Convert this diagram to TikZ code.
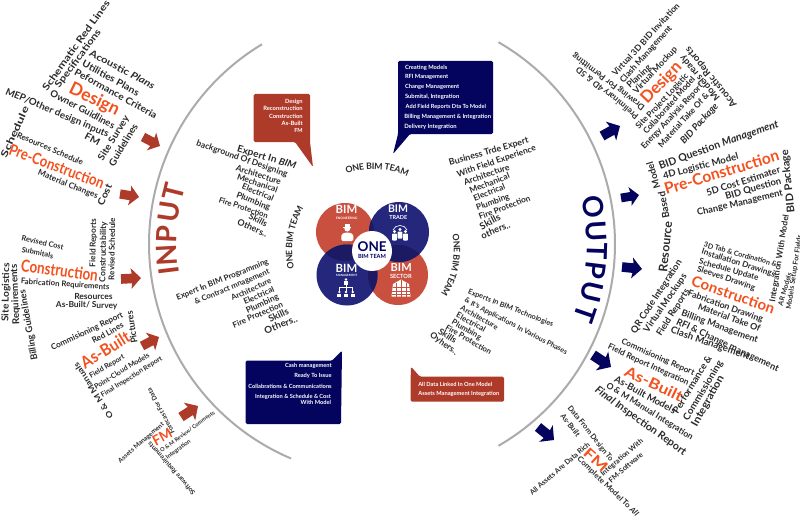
\documentclass[tikz,border=0pt]{standalone}
\usepackage{fontspec}
\usepackage{graphicx}
\setmainfont{Lato}
\definecolor{txtc}{HTML}{2A2A2A}
\definecolor{orangec}{HTML}{F4511E}
\definecolor{redc}{HTML}{AE3A2A}
\definecolor{navyc}{HTML}{04045F}
\definecolor{circred}{HTML}{C9503F}
\definecolor{circblue}{HTML}{24277C}
\definecolor{circdark}{HTML}{1B1A62}
\definecolor{arcgray}{HTML}{ABABAB}
\newcounter{lblcnt}
\newsavebox\tlbox
\def\tlcap{9.5}
\tikzset{
  linetxt/.style={inner sep=0pt,outer sep=0pt,text=txtc,font=\bfseries},
  bigword/.style={inner sep=0pt,outer sep=0pt,text=orangec,font=\bfseries},
  whitetxt/.style={inner sep=0pt,outer sep=0pt,text=white,font=\bfseries},
  navytxt/.style={inner sep=0pt,outer sep=0pt,text=navyc,font=\bfseries},
  bigarc/.style={draw=arcgray,line width=1.5pt},
  iconw/.style={fill=white,draw=none},
}
% text line from (x1,y1) to (x2,y2), stretched to that length; its size is held to \tlcap px
\newcommand\TL[6][linetxt]{%
  \pgfinterruptpicture
    \global\setbox\tlbox\hbox{\normalfont\fontsize{10}{12}\selectfont\bfseries #6}%
  \endpgfinterruptpicture
  \pgfmathsetmacro\tlang{atan2(#3-#5,#4-#2)}%
  \pgfmathsetmacro\tllen{0.75*veclen(#4-#2,#5-#3)}%
  \pgfmathsetmacro\tlnat{veclen(#4-#2,#5-#3)*10/\the\wd\tlbox}%
  \pgfmathsetmacro\tlv{min(1,\tlcap/\tlnat)}%
  \stepcounter{lblcnt}%
  \node[#1,rotate=\tlang,name=l\thelblcnt] at ({(#2+#4)/2},{(#3+#5)/2})
    {\scalebox{1}[\tlv]{\resizebox{\tllen pt}{!}{\vphantom{Ag}#6}}};%
}
% orange keyword: end points and font size in px
\newcommand\KW[6]{%
  \pgfmathsetmacro\tlang{atan2(#2-#4,#3-#1)}%
  \pgfmathsetmacro\tllen{0.75*veclen(#3-#1,#4-#2)}%
  \stepcounter{lblcnt}%
  \pgfmathsetmacro\tlh{0.75*0.73*#5}%
  \node[bigword,rotate=\tlang,name=l\thelblcnt] at ({(#1+#3)/2},{(#2+#4)/2})
    {\resizebox{\tllen pt}{\tlh pt}{\vphantom{Ag}#6}};%
}
% block arrow
\newcommand\BA[5]{%
  \pgfmathsetmacro\bax{#2}\pgfmathsetmacro\bay{#3}%
  \pgfmathsetmacro\badx{#4-#2}\pgfmathsetmacro\bady{#5-#3}%
  \fill[#1] ({\bax-.24*\bady},{\bay+.24*\badx})
    -- ({\bax+.55*\badx-.24*\bady},{\bay+.55*\bady+.24*\badx})
    -- ({\bax+.5*\badx-.52*\bady},{\bay+.5*\bady+.52*\badx})
    -- (#4,#5)
    -- ({\bax+.5*\badx+.52*\bady},{\bay+.5*\bady-.52*\badx})
    -- ({\bax+.55*\badx+.24*\bady},{\bay+.55*\bady-.24*\badx})
    -- ({\bax+.24*\bady},{\bay-.24*\badx}) -- cycle;%
}
% big letter on the circle
\newcommand\BL[3]{%
  \pgfmathsetmacro\blrot{#3-90}%
  \stepcounter{lblcnt}%
  \node[inner sep=0pt,text=#1,rotate=\blrot,name=l\thelblcnt,font=\fontsize{21}{21}\selectfont\bfseries]
    at ({382+215*cos(#3)},{244-215*sin(#3)}) {#2};%
}
% ONE BIM TEAM set letter by letter round the hub, centred on angle #1
\newcommand\TEAM[1]{%
  \foreach \ltr/\off in {O/-3.25,N/-2.48,E/-1.815,B/-.95,I/-.485,M/.12,T/1.135,E/1.725,A/2.365,M/3.18}{%
    \pgfmathsetmacro\aa{#1-6*\off}%
    \pgfmathsetmacro\ar{\aa-90}%
    \node[inner sep=0pt,text=txtc,rotate=\ar,font=\fontsize{6.6}{6.6}\selectfont\bfseries]
      at ({373+84*cos(\aa)},{250-84*sin(\aa)}) {\ltr};%
  }%
}
\begin{document}
\begin{tikzpicture}[x=0.75pt,y=-0.75pt]
\useasboundingbox (0,0) rectangle (800,517);
\fill[white] (0,0) rectangle (800,517);

% big arcs
\draw[bigarc] plot[smooth,domain=121:247,samples=80] ({382+233*cos(\x)},{244-233*sin(\x)});
\draw[bigarc] plot[smooth,domain=60:-60,samples=80] ({382+233*cos(\x)},{244-233*sin(\x)});

% INPUT / OUTPUT
\BL{redc}{I}{187}\BL{redc}{N}{183}\BL{redc}{P}{177.4}\BL{redc}{U}{171.5}\BL{redc}{T}{166}
\BL{navyc}{O}{10}\BL{navyc}{U}{3.5}\BL{navyc}{T}{-2}\BL{navyc}{P}{-7}\BL{navyc}{U}{-13}\BL{navyc}{T}{-19}

% arrows
\BA{redc}{143}{137}{160}{146}
\BA{redc}{120}{194}{139}{197}
\BA{redc}{121}{279}{141}{278}
\BA{redc}{142}{346}{159}{337}
\BA{redc}{181}{417}{198}{406}
\BA{navyc}{602}{136}{620}{126}
\BA{navyc}{621}{198}{639}{195}
\BA{navyc}{622}{267}{642}{269}
\BA{navyc}{593}{355}{611}{367}
\BA{navyc}{538}{427}{554}{440}

% centre circles
\fill[circred] (345,232) circle[radius=29];
\fill[circred] (398,275) circle[radius=30];
\fill[circblue] (399,232) circle[radius=30];
\fill[circblue] (347,275) circle[radius=30.5];
\begin{scope}\clip (345,232) circle[radius=29];\fill[circdark] (399,232) circle[radius=30];\fill[circdark] (347,275) circle[radius=30.5];\end{scope}
\begin{scope}\clip (398,275) circle[radius=30];\fill[circdark] (399,232) circle[radius=30];\fill[circdark] (347,275) circle[radius=30.5];\end{scope}
\fill[white] (372,251) circle[radius=20];
{\def\tlcap{30}
\TL[navytxt]{357.7}{247.3}{386.7}{247.3}{ONE}
\TL[navytxt]{358}{256.7}{386}{256.7}{BIM TEAM}
\TL[whitetxt]{335.7}{210.7}{357.3}{210.7}{BIM}
\TL[whitetxt]{388}{210}{408}{210}{BIM}
\TL[whitetxt]{335.7}{269.3}{357.3}{269.3}{BIM}
\TL[whitetxt]{390.7}{268.3}{411.7}{268.3}{BIM}
}
\TL[whitetxt]{336}{218.3}{357.3}{218.3}{ENGINEERING}
\TL[whitetxt]{389.3}{217.7}{407.3}{217.7}{TRADE}
\TL[whitetxt]{336}{275.2}{357.3}{275.2}{MANAGEMENT}
\TL[whitetxt]{390}{276.7}{411.7}{276.7}{SECTOR}

% icons: worker
\fill[iconw] (347.3,228.5) circle[radius=3];
\fill[iconw] (343.3,226.5) rectangle (351.3,227.3);
\fill[iconw,rounded corners=1pt] (341.3,241) -- (341.3,234.5) -- (345,232.5) -- (349.6,232.5) -- (353.3,234.5) -- (353.3,241) -- cycle;
\fill[iconw] (344.5,224.2) rectangle (350,226.6);
% icons: people
\draw[white,line width=.5pt] (393,230) .. controls (395,224) and (405,224) .. (407,230);
\foreach \px/\py in {394.5/231.5,400/229.5,405.5/231.5}{
  \fill[iconw] (\px,\py) circle[radius=1.7];
  \fill[iconw,rounded corners=.5pt] ({\px-2.4},{\py+2.2}) rectangle ({\px+2.4},{\py+9});
}
% icons: org chart
\fill[iconw] (346,279.5) circle[radius=1.4];
\fill[iconw] (344.2,281.2) rectangle (347.8,284.5);
\draw[white,line width=.5pt] (346,284.5) -- (346,291);
\draw[white,line width=.5pt] (339.3,291) -- (339.3,287.5) -- (352.7,287.5) -- (352.7,291);
\foreach \px in {339.3,346,352.7}{
  \fill[iconw] (\px,292) circle[radius=1.3];
  \fill[iconw] ({\px-2},293.6) rectangle ({\px+2},297);
}
% icons: building
\fill[iconw] (393,284) -- (401,279.5) -- (409,284) -- (410.5,296.5) -- (391.5,296.5) -- cycle;
\draw[circred,line width=.4pt] (392.5,287.5) -- (409.5,287.5) (392,291) -- (410,291) (392,294) -- (410,294);
\draw[circred,line width=.4pt] (396,282.5) -- (396,296.5) (401,279.5) -- (401,296.5) (406,282.5) -- (406,296.5);

% ONE BIM TEAM curved labels
\TEAM{87}
\TEAM{171}
\TEAM{-11}

% callouts
\fill[redc,rounded corners=1pt] (253.7,94) -- (310,94) -- (310,142) -- (313,167) -- (295,142) -- (253.7,142) -- cycle;
\TL[whitetxt]{285}{101.7}{302.7}{101.7}{Design}
\TL[whitetxt]{263.3}{109.3}{302.7}{109.3}{Reconstruction}
\TL[whitetxt]{269}{117}{302.7}{117}{Construction}
\TL[whitetxt]{281.7}{124}{302.7}{124}{As-Built}
\TL[whitetxt]{294.3}{131}{302.7}{131}{FM}

\fill[navyc,rounded corners=1pt] (398,61) -- (493,61) -- (493,134) -- (410,134) -- (393,154) -- (398,134) -- cycle;
\TL[whitetxt]{405}{67.7}{447.3}{67.7}{Creating Models}
\TL[whitetxt]{405}{77.3}{448.3}{77.3}{RFI Management}
\TL[whitetxt]{405}{87.3}{459.3}{87.3}{Change Management}
\TL[whitetxt]{405}{97.3}{459.3}{97.3}{Submital, Integration}
\TL[whitetxt]{405.7}{107}{486}{107}{Add Field Reports Dta To Model}
\TL[whitetxt]{404.3}{117}{491}{117}{Billing Management \& Integration}
\TL[whitetxt]{404.3}{126.5}{456.7}{126.5}{Delivery Integration}

\fill[navyc,rounded corners=1pt] (245.7,360.7) -- (332,360.7) -- (342,350.7) -- (341,424) -- (245.7,424) -- cycle;
\TL[whitetxt]{285}{366}{331.7}{366}{Cash management}
\TL[whitetxt]{294.3}{375.7}{331.7}{375.7}{Ready To Issue}
\TL[whitetxt]{248.3}{386.7}{331.7}{386.7}{Collabrations \& Communications}
\TL[whitetxt]{255}{396.7}{331}{396.7}{Integration \& Schedule \& Cost}
\TL[whitetxt]{300.7}{403.3}{331}{403.3}{With Model}

\fill[redc,rounded corners=1pt] (410.7,376.7) -- (411,366.7) -- (420,376.7) -- (504,376.7) -- (504,401.7) -- (410.7,401.7) -- cycle;
\TL[whitetxt]{418.3}{384.7}{492.3}{384.7}{All Data Linked In One Model}
\TL[whitetxt]{418.3}{394}{499.3}{394}{Assets Management Integration}

% INPUT side: Design
\TL{45}{90}{108.3}{1.7}{Schematic Red Lines}
\TL{57.3}{87.3}{99.3}{30.7}{Specifications}
\TL{90}{53.3}{154}{87.3}{Acoustic \textit{Plans}}
\TL{82.7}{63.3}{138.3}{94}{Utilities Plans}
\TL{75}{71.7}{156}{116.7}{Peformance Criteria}
\KW{70}{88.3}{118.3}{111.7}{18}{Design}
\TL{50.7}{93.3}{114}{126.7}{Owner Guidlines}
\TL{6}{91.7}{108.3}{135}{MEP/Other design inputs}
\TL{85}{136.7}{99.3}{144}{FM}
\TL{100.7}{160}{127.3}{116.7}{Site Survey}
\TL{111.7}{165.7}{136}{125}{Guidelines}
% Pre-Construction
\TL{4}{157.3}{26.7}{107.3}{Schedule}
\TL{17.3}{135}{82.7}{163.3}{Resources Schedule}
\KW{9.3}{150}{103.3}{185}{16}{Pre-Construction}
\TL{38.3}{172.7}{97.7}{196.7}{Material Changes}
\TL{100.7}{205}{110}{185}{Cost}
% Construction
\TL{21.7}{238.3}{63.3}{248.3}{Revised Cost}
\TL{21.7}{250}{53.3}{256.7}{Submitals}
\TL{93}{267}{94}{219}{Field Reports}
\TL{103}{282}{104}{222}{Constructability}
\TL{112}{280}{113}{218}{Revised Schedule}
\KW{21}{266.7}{97.7}{276.7}{17}{Construction}
\TL{21}{281.7}{109.3}{287.7}{Fabrication Requirements}
\TL{74.3}{296.7}{112.7}{297.3}{Resources}
\TL{56}{305}{117.3}{306}{As-Built/ Survey}
\TL{5.7}{321.7}{6.7}{263.3}{Site Logistics}
\TL{16.7}{325}{14.3}{264.3}{Requirements}
\TL{35}{360}{22.7}{290}{Billing Guidelines}
% As-Built
\TL{51.7}{348.3}{122.7}{315}{Commisioning Report}
\TL{92.7}{341.7}{123.3}{325}{Red Lines}
\TL{135}{343.3}{130}{311}{Pictures}
\KW{82.7}{365}{129.3}{336.7}{17}{As-Built}
\TL{90}{376.7}{124}{356.7}{Field Report}
\TL{95}{387.7}{149}{355}{Point-Cloud Models}
\TL{101.7}{396}{161.7}{358.3}{Final Inspection Report}
{\def\tlcap{8}
\TL{111.7}{417.7}{76}{363.3}{O \& M Manuals}
}
% FM
{\def\tlcap{6.5}
\TL{173.3}{433.3}{149.3}{388.3}{Forecast For Data}
\TL{119.3}{461.7}{163.3}{424}{Assets Management}
\TL{161}{451.7}{214.3}{412.3}{O \& M Review/ Comments}
\TL{166.7}{458.3}{190}{440.7}{Integration}
\TL{194.3}{494}{149}{442.7}{Software Requirements}
}
\KW{154}{442.7}{171.7}{433.3}{14}{FM}

% inner lists
\TL{237.3}{149.3}{296}{166.7}{Expert In \textit{BIM}}
\TL{196.7}{143.3}{287.3}{175}{background Of Designing}
\TL{236}{168.3}{280.7}{182.7}{Architecture}
\TL{237.3}{177.3}{277.3}{190.7}{Mechanical}
\TL{242.3}{186.7}{273.3}{199.3}{Electrical}
\TL{236.7}{195}{270}{208.3}{Plumbing}
\TL{219}{200}{267.7}{216.7}{Fire Protection}
\TL{249.3}{216}{266.7}{225}{Skills}
\TL{237.7}{222.3}{266.7}{235}{Others..}

\TL{449.3}{163.3}{528.3}{140.7}{Business Trde Expert}
\TL{457.3}{175}{535.7}{148.3}{With Field Experience}
\TL{464.3}{183.3}{509.3}{167.3}{Architecture}
\TL{470}{191.7}{509.3}{176}{Mechanical}
\TL{474}{199.3}{505}{186.7}{Electrical}
\TL{476.7}{208.3}{509.3}{196.7}{Plumbing}
\TL{479.3}{217.7}{530}{198.3}{Fire Protection}
\TL{480.7}{227.7}{500}{217.3}{Skills}
\TL{481.7}{236.7}{510}{225}{others..}

\TL{176.7}{298.3}{268.3}{261.7}{Expert In BIM Programming}
\TL{195}{302.7}{269.3}{271.7}{\& Contract mnagement}
\TL{231.7}{299}{271}{281}{Architecture}
\TL{244.3}{302.7}{274}{289.3}{Electrical}
\TL{246.7}{311}{278.3}{296.7}{Plumbing}
\TL{233.3}{326}{282.7}{305}{Fire Protection}
\TL{269.3}{320}{288.3}{311}{Skills}
\TL{265}{331.7}{297.3}{319}{Others..}

\TL{468.3}{291.7}{553}{325}{Experts In BIM Technologies}
\TL{465}{300}{566.7}{352.7}{\& It's Applications In Various Phases}
\TL{461}{307.7}{497.3}{328.3}{Architecture}
\TL{456.7}{315}{485}{330.7}{Electrical}
\TL{452.3}{321.7}{480.7}{338.3}{Plumbing}
\TL{446}{327.3}{490.7}{353.3}{Fire Protection}
\TL{439}{331}{455.7}{341.7}{Skills}
\TL{430.7}{335}{456.7}{353.3}{Oyhers..}

% OUTPUT side: Design
\TL{614}{75}{678.3}{5}{Virtual 3D BID Invitation}
\TL{621.7}{81.7}{670.7}{27.3}{Clash Management}
\TL{628.3}{86.7}{650}{66.7}{Planing}
\TL{635}{92.7}{676}{48.3}{Virtual Mockup}
\KW{644}{101.7}{679.3}{65}{17}{Design}
\TL{637.3}{128.3}{687.3}{75}{Site Project Logistic}
\TL{645}{133.3}{694}{78.3}{Collaborated Model}
\TL{642.7}{148.3}{701.7}{85}{Energy Analysis Report}
\TL{660}{146.7}{707.7}{94.3}{Material Take Of \&}
\TL{682.3}{142.7}{716.7}{105}{\textit{BID Package}}
\TL{735}{106}{687.3}{48.3}{Acoustic Reports}
\TL{718.3}{99.3}{681.7}{56.7}{Models ready}
\TL{644}{108.3}{573.3}{55}{Drawing For Permitting}
\TL{637.7}{117.3}{577.3}{68.3}{Preliminary 4D \& 5D}
% Pre-Construction
{\def\tlcap{10.5}
\TL{659.3}{166.7}{778.3}{124}{BID Question \textit{Management}}
\TL{791.7}{212.7}{785}{150}{BID Package}
}
\TL{663.3}{176.7}{738.3}{156.7}{4D Logistic Model}
\KW{665}{190.7}{779}{156}{16}{Pre-Construction}
\TL{706.7}{194}{780}{170}{5D Cost Estimater}
\TL{725.7}{197.3}{781}{181}{BID Question}
\TL{697.3}{213.3}{782.7}{193.3}{Change Management}
{\def\tlcap{12}
\TL{664}{271.7}{669}{221.7}{Resource}
\TL{667}{218}{662}{192}{Based}
\TL{658}{188}{650}{162}{Model}
}
% Construction
\TL{704}{245}{776.7}{265}{3D Tab \& Cordination \&}
\TL{701.7}{251.7}{775}{275}{Installation Drawings}
\TL{699.3}{261.7}{758.3}{278.3}{Schedule Update}
\TL{697.3}{269.3}{755}{288.3}{Sleeves Drawing}
\KW{691.7}{281.7}{774}{310}{15}{Construction}
\TL{688.3}{293.3}{762.7}{320}{Fabrication Drawing}
\TL{698.3}{306.7}{760}{329.3}{Material Take Of}
\TL{681.7}{313.3}{757.7}{340.7}{Billing Management}
\TL{676.7}{321.7}{778.3}{369.3}{RFI \& Change management}
\TL{671}{330}{749}{357.3}{Clash Management}
\TL{633.3}{332.7}{680}{260.7}{QR Code Integration}
\TL{646}{331.7}{685}{275}{Virtual Mockups}
\TL{659}{335}{687.7}{290}{Field Reports}
\TL{772.7}{301.7}{786.7}{215}{Integration With Model}
{\def\tlcap{7.5}
\TL{780.7}{305.7}{790}{273.3}{AR Models}
\TL{789}{309.3}{800}{235}{Models Setup For Fields}
}
% As-Built
\TL{621.7}{341.7}{694}{373.3}{Commisioning Report}
\TL{608.3}{346.7}{688.3}{383.3}{Field Report Integration}
\KW{625}{371.7}{681.7}{398.3}{15}{As-Built}
\TL{615}{379.3}{675}{411.7}{As-Built Models}
\TL{606.7}{385}{692.3}{438.3}{O \& M Manual Integration}
{\def\tlcap{10.5}
\TL{596}{389.3}{685}{453.3}{\textit{Final} Inspection Report}
\TL{694.3}{426}{721.7}{376.7}{Integration}
}
\TL{675.7}{413.3}{710}{356.7}{Performance \&}
\TL{685.7}{420}{720.7}{361.7}{Commissioning}
% FM
{\def\tlcap{7.5}
\TL{569}{406.7}{611.7}{460.7}{Data From Design To}
\TL{561.7}{415}{578.3}{436}{As-Built}
\TL{531}{494}{589}{444}{All Assets Are Data Rich}
\TL{578.3}{458.3}{637.3}{515}{Complete Model To \textit{All}}
\TL{601.7}{475}{642.3}{440.7}{Integration With}
\TL{610}{481.7}{642.3}{454}{FM-Software}
}
\KW{585}{451.7}{605}{470}{14}{FM}
\end{tikzpicture}
\end{document}
